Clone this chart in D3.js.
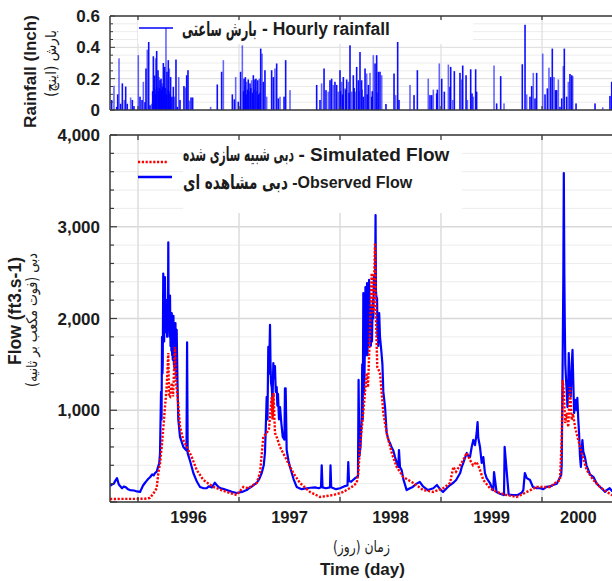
<!DOCTYPE html>
<html><head><meta charset="utf-8">
<script src="https://cdn.jsdelivr.net/npm/d3@7"></script>
<style>body{margin:0;background:#fff}svg{display:block}</style>
</head><body>
<svg id="c" width="612" height="581"></svg>
<script>
// ---------------- DATA ----------------
// time in decimal years
const rainTime = [1995.739,1995.762,1995.789,1995.799,1995.812,1995.828,1995.845,1995.865,1995.878,1995.894,1995.927,1995.944,1995.960,
1996.003,1996.020,1996.040,1996.053,1996.069,1996.079,1996.092,1996.106,1996.119,1996.135,1996.145,1996.152,1996.158,1996.165,1996.170,1996.175,1996.180,1996.185,1996.190,1996.198,1996.203,1996.208,1996.213,1996.218,1996.223,1996.228,1996.233,1996.238,1996.244,1996.251,1996.256,1996.264,1996.269,1996.277,1996.282,1996.287,1996.293,1996.300,1996.305,1996.310,1996.316,1996.323,1996.330,1996.337,1996.350,1996.363,1996.376,1996.389,1996.403,1996.416,1996.455,1996.469,1996.482,1996.495,1996.508,1996.525,1996.541,
1996.719,1996.785,1996.828,1996.845,1996.934,1996.954,1996.967,1996.993,1997.016,1997.033,1997.045,1997.050,1997.058,1997.063,1997.070,1997.076,1997.084,1997.092,1997.100,1997.109,1997.117,1997.125,1997.133,1997.142,1997.150,1997.158,1997.168,1997.175,1997.185,1997.193,1997.201,1997.208,1997.215,1997.228,1997.241,1997.257,1997.274,
1997.323,1997.340,1997.356,1997.373,1997.389,1997.406,1997.446,1997.462,1997.505,
1997.769,1997.802,1997.818,1997.842,1997.861,1997.884,1997.901,1997.917,1997.934,1997.950,1997.967,1997.983,1998.000,1998.005,1998.016,1998.025,1998.033,1998.050,1998.058,1998.066,1998.083,1998.090,1998.099,1998.116,1998.132,1998.140,1998.149,1998.165,1998.182,1998.190,1998.198,1998.214,1998.220,1998.231,1998.248,1998.264,1998.270,1998.281,1998.297,1998.314,1998.320,1998.330,1998.347,1998.363,1998.370,1998.380,1998.396,1998.413,1998.455,1998.535,1998.551,1998.571,1998.584,1998.693,1998.733,1998.766,1998.874,1998.891,1998.908,1998.924,1998.957,1998.964,
1998.983,1999.007,1999.033,1999.073,1999.089,1999.096,1999.116,1999.132,1999.188,1999.205,1999.215,1999.248,1999.261,1999.294,1999.307,1999.320,1999.343,1999.353,1999.525,1999.551,1999.591,1999.624,
1999.805,1999.832,1999.848,1999.881,1999.898,1999.914,1999.931,1999.947,2000.007,2000.030,2000.053,2000.069,2000.086,2000.102,2000.119,2000.135,2000.145,2000.162,2000.178,2000.195,2000.211,2000.221,2000.244,2000.261,2000.277,2000.294,2000.304,2000.337,2000.525,2000.601,2000.673,2000.690];
const rainValue = [0.064,0.155,0.02,0.10,0.33,0.04,0.17,0.064,0.15,0.04,0.08,0.064,0.025,
0.35,0.085,0.064,0.18,0.05,0.265,0.385,0.434,0.03,0.04,0.12,0.343,0.14,0.22,0.10,0.33,0.13,0.377,0.15,0.254,0.12,0.21,0.14,0.19,0.11,0.20,0.13,0.17,0.15,0.30,0.12,0.275,0.14,0.525,0.10,0.244,0.13,0.318,0.12,0.265,0.10,0.21,0.08,0.085,0.148,0.085,0.322,0.02,0.21,0.064,0.153,0.144,0.222,0.254,0.06,0.08,0.08,
0.02,0.163,0.244,0.318,0.10,0.068,0.21,0.053,0.244,0.413,0.12,0.20,0.15,0.21,0.10,0.18,0.13,0.195,0.12,0.17,0.14,0.19,0.11,0.222,0.13,0.195,0.20,0.12,0.19,0.10,0.20,0.11,0.392,0.36,0.18,0.254,0.085,
0.254,0.21,0.265,0.297,0.074,0.085,0.085,0.318,0.127,
0.16,0.064,0.17,0.265,0.127,0.117,0.19,0.20,0.16,0.18,0.16,0.117,0.254,0.12,0.18,0.10,0.21,0.138,0.13,0.195,0.18,0.11,0.413,0.117,0.222,0.14,0.117,0.275,0.19,0.12,0.37,0.19,0.13,0.085,0.265,0.233,0.10,0.16,0.237,0.085,0.12,0.35,0.297,0.35,0.11,0.244,0.244,0.222,0.038,0.233,0.095,0.434,0.064,0.16,0.095,0.254,0.20,0.095,0.095,0.13,0.106,0.13,
0.297,0.20,0.117,0.29,0.148,0.275,0.064,0.248,0.237,0.195,0.284,0.222,0.064,0.26,0.106,0.085,0.26,0.117,0.284,0.042,0.216,0.042,
0.292,0.544,0.10,0.085,0.153,0.237,0.074,0.237,0.36,0.10,0.138,0.27,0.21,0.392,0.21,0.127,0.127,0.195,0.02,0.074,0.28,0.392,0.085,0.18,0.23,0.222,0.216,0.042,0.042,0.017,0.09,0.18];

const obsTime = [1995.723,1995.740,1995.760,1995.775,1995.792,1995.810,1995.842,1995.860,1995.880,1995.900,1995.921,1995.960,1995.990,1996.020,1996.050,1996.070,1996.085,1996.100,1996.119,1996.140,1996.155,1996.168,1996.185,1996.198,1996.210,1996.218,1996.228,1996.233,1996.238,1996.242,1996.245,1996.250,1996.253,1996.256,1996.259,1996.262,1996.267,1996.271,1996.275,1996.279,1996.284,1996.288,1996.292,1996.296,1996.300,1996.304,1996.307,1996.312,1996.317,1996.322,1996.327,1996.331,1996.334,1996.338,1996.341,1996.344,1996.347,1996.351,1996.355,1996.358,1996.362,1996.366,1996.371,1996.374,1996.377,1996.380,1996.383,1996.391,1996.399,1996.416,1996.449,1996.480,1996.486,1996.492,1996.515,1996.548,1996.584,1996.614,1996.650,1996.680,1996.700,1996.733,1996.760,1996.779,1996.800,1996.822,1996.850,1996.878,1996.930,1996.977,1997.030,1997.076,1997.100,1997.129,1997.150,1997.175,1997.200,1997.225,1997.245,1997.257,1997.265,1997.274,1997.282,1997.290,1997.298,1997.307,1997.312,1997.317,1997.324,1997.332,1997.340,1997.348,1997.356,1997.364,1997.373,1997.380,1997.386,1997.396,1997.406,1997.420,1997.433,1997.450,1997.455,1997.462,1997.472,1997.490,1997.505,1997.540,1997.571,1997.620,1997.670,1997.710,1997.752,1997.790,1997.812,1997.819,1997.827,1997.860,1997.901,1997.906,1997.913,1997.960,1998.000,1998.040,1998.074,1998.082,1998.089,1998.110,1998.129,1998.150,1998.165,1998.178,1998.184,1998.192,1998.203,1998.210,1998.215,1998.220,1998.225,1998.231,1998.238,1998.243,1998.248,1998.252,1998.257,1998.260,1998.264,1998.268,1998.272,1998.276,1998.280,1998.288,1998.297,1998.301,1998.305,1998.312,1998.317,1998.322,1998.326,1998.330,1998.335,1998.340,1998.347,1998.352,1998.356,1998.363,1998.367,1998.371,1998.375,1998.379,1998.388,1998.396,1998.411,1998.420,1998.429,1998.446,1998.462,1998.480,1998.495,1998.510,1998.528,1998.545,1998.561,1998.577,1998.584,1998.594,1998.610,1998.627,1998.660,1998.693,1998.720,1998.759,1998.790,1998.822,1998.870,1998.924,1998.960,1998.990,1999.020,1999.056,1999.090,1999.122,1999.150,1999.171,1999.190,1999.205,1999.220,1999.238,1999.255,1999.270,1999.287,1999.304,1999.320,1999.337,1999.353,1999.362,1999.369,1999.386,1999.403,1999.419,1999.435,1999.452,1999.485,1999.513,1999.518,1999.525,1999.550,1999.584,1999.619,1999.624,1999.630,1999.670,1999.713,1999.760,1999.799,1999.815,1999.830,1999.849,1999.881,1999.910,1999.947,1999.980,2000.013,2000.045,2000.079,2000.110,2000.146,2000.165,2000.178,2000.190,2000.195,2000.200,2000.205,2000.211,2000.216,2000.221,2000.226,2000.231,2000.238,2000.245,2000.252,2000.260,2000.265,2000.270,2000.277,2000.285,2000.294,2000.302,2000.310,2000.318,2000.327,2000.335,2000.343,2000.350,2000.359,2000.367,2000.376,2000.385,2000.393,2000.400,2000.409,2000.425,2000.440,2000.458,2000.475,2000.510,2000.542,2000.575,2000.607,2000.625,2000.641,2000.670,2000.693,2000.760];
const obsFlow = [175,190,200,230,260,190,150,170,160,140,130,125,115,110,180,210,230,250,270,300,290,315,330,380,420,530,1200,900,1800,1400,1500,2490,1900,2100,1750,2000,2450,1850,1900,2050,2200,1800,2050,1950,2830,1900,2100,1800,2250,1700,1900,1650,2060,1600,1750,1550,1800,2030,1500,1650,1450,1700,1950,1500,1600,1350,1875,1300,900,710,600,560,1740,530,450,316,220,164,150,150,170,160,210,185,160,150,140,130,110,98,110,130,150,170,190,207,250,316,400,534,800,1145,900,1690,1400,1930,1500,1300,1253,1100,1515,1350,1480,1200,1253,1050,1180,900,1035,850,710,680,1240,1240,567,450,382,250,164,140,150,155,160,150,160,400,160,150,160,400,160,140,150,170,180,435,230,220,240,260,272,280,1330,500,600,800,927,1500,900,2278,1200,1406,1900,2343,1700,1600,2000,2387,1600,1900,1700,2420,1900,2125,1700,1850,1750,2100,2200,2000,2452,2300,2300,3128,2300,2200,2223,1800,1900,1700,2060,1800,1624,1500,1200,1035,752,676,640,600,560,490,430,382,567,380,349,250,130,150,164,200,218,170,130,150,185,140,109,150,185,210,240,280,316,380,425,480,534,500,490,600,676,620,752,872,700,600,425,490,316,260,207,130,130,327,110,90,76,76,600,80,76,76,100,130,316,260,240,164,150,150,140,164,170,185,200,240,270,294,400,970,1600,2420,3586,2500,1908,1500,1330,1200,1035,1300,1624,1400,1200,1150,1500,1657,1300,970,1050,1112,1000,1134,900,752,500,382,550,676,550,490,400,350,300,272,200,164,130,110,130,150,120,98,95];

const simTime = [1995.723,1996.069,1996.119,1996.151,1996.185,1996.201,1996.218,1996.235,1996.250,1996.267,1996.284,1996.300,1996.307,1996.317,1996.327,1996.334,1996.347,1996.356,1996.366,1996.376,1996.389,1996.416,1996.449,1996.483,1996.532,1996.581,1996.647,1996.746,1996.878,1996.977,1997.043,1997.089,1997.175,1997.208,1997.241,1997.274,1997.297,1997.312,1997.324,1997.332,1997.342,1997.356,1997.376,1997.406,1997.472,1997.538,1997.604,1997.703,1997.802,1997.934,1998.033,1998.116,1998.165,1998.181,1998.198,1998.230,1998.264,1998.277,1998.297,1998.314,1998.330,1998.347,1998.356,1998.369,1998.396,1998.413,1998.429,1998.462,1998.512,1998.561,1998.627,1998.726,1998.825,1998.924,1999.023,1999.089,1999.122,1999.149,1999.221,1999.254,1999.287,1999.317,1999.353,1999.386,1999.419,1999.485,1999.551,1999.650,1999.749,1999.815,1999.947,2000.079,2000.146,2000.178,2000.195,2000.205,2000.218,2000.228,2000.245,2000.260,2000.277,2000.294,2000.307,2000.327,2000.359,2000.393,2000.442,2000.508,2000.574,2000.641,2000.693,2000.760];
const simFlow = [33,35,45,90,150,316,420,600,800,1035,1253,1624,1150,1145,1250,1297,1150,1400,1690,1300,1188,818,676,600,490,349,240,164,109,76,164,150,207,316,710,752,800,1000,1145,900,1188,752,700,600,458,316,207,109,55,76,109,164,207,316,600,970,1406,1250,1875,2495,2060,2823,2000,1471,1406,1188,970,752,534,382,272,207,130,110,150,207,382,330,458,534,458,400,436,349,240,150,109,76,55,90,164,164,218,240,676,1330,1188,861,970,818,1253,894,960,818,676,534,349,240,164,110,76,70];

const yearTicks = [1996,1997,1998,1999,2000];
const yearLabels = ["1996","1997","1998","1999","2000"];
const yearLabelPos = [1996.5,1997.5,1998.5,1999.5,2000.36];
const flowTicks = [1000,2000,3000,4000];
const flowTickLabels = ["1,000","2,000","3,000","4,000"];
const rainTicks = [0,0.2,0.4,0.6];
const rainTickLabels = ["0","0.2","0.4","0.6"];

// ---------------- CHART ----------------
const svg = d3.select("#c");
const L = 110, R = 622;
const x = d3.scaleLinear().domain([1996, 2000]).range([138, 542]);
const yR = d3.scaleLinear().domain([0, 0.6]).range([110, 16]);
const yF = d3.scaleLinear().domain([0, 4000]).range([502, 135]);

const AX = "#3a3a3a", TXT = "#1c1c1c";
const EN = "'Liberation Sans', Arial, sans-serif";
const FA = "'DejaVu Sans', sans-serif";

function fitText(parent, str, o) {
  const t = parent.append("text").text(str)
    .attr("font-family", o.family).attr("font-weight", o.weight || "normal")
    .attr("font-size", o.size).attr("fill", o.fill || TXT).attr("x", 0).attr("y", o.y);
  let w = t.node().getBBox().width;
  let s = o.size * (o.x1 - o.x0) / w;
  s = Math.max(o.size * 0.7, Math.min(o.size * 1.35, s));
  t.attr("font-size", s);
  const b = t.node().getBBox();
  t.attr("x", (o.x0 + o.x1) / 2 - (b.x + b.width / 2));
  return t;
}
// Persian text: keep glyph height, squeeze horizontally to the width via a scale transform
function faText(parent, str, o) {
  const g = parent.append("g");
  const t = g.append("text").text(str)
    .attr("font-family", FA).attr("font-weight", o.weight || "normal")
    .attr("font-size", o.size).attr("fill", o.fill || TXT).attr("x", 0).attr("y", 0);
  const b = t.node().getBBox();
  const sx = (o.x1 - o.x0) / b.width;
  t.attr("x", -b.x);
  g.attr("transform", `translate(${o.x0},${o.y}) scale(${sx},1)`);
  return g;
}

// ===== Rainfall panel =====
const gR = svg.append("g");
const rainMinor = d3.range(0, 0.6001, 0.05);
gR.selectAll(".hg").data(rainMinor).join("line")
  .attr("x1", L).attr("x2", R).attr("y1", d => yR(d)).attr("y2", d => yR(d))
  .attr("stroke", d => (Math.abs(d*5 - Math.round(d*5)) < 1e-6) ? "#dcdcdc" : "#ececec").attr("stroke-width", 1);
gR.selectAll(".vg").data(yearTicks).join("line")
  .attr("x1", d => x(d)).attr("x2", d => x(d)).attr("y1", yR(0.6)).attr("y2", yR(0))
  .attr("stroke", "#dedede").attr("stroke-width", 1.2);
gR.append("rect").attr("x", 138).attr("y", 17).attr("width", 335).attr("height", 27).attr("fill", "#fff");
gR.append("g").selectAll("rect").data(rainTime.map((t, i) => [t, rainValue[i]])).join("rect")
  .attr("x", d => x(d[0]) - 0.8).attr("width", 1.6)
  .attr("y", d => yR(d[1])).attr("height", d => yR(0) - yR(d[1]))
  .attr("fill", "#0000ff").attr("fill-opacity", (d, i) => (i % 3 === 1 ? 0.6 : 0.95));
gR.append("line").attr("x1", L).attr("x2", R).attr("y1", yR(0.6)).attr("y2", yR(0.6)).attr("stroke", AX).attr("stroke-width", 1.5);
gR.append("line").attr("x1", L).attr("x2", R).attr("y1", yR(0)).attr("y2", yR(0)).attr("stroke", AX).attr("stroke-width", 1.5);
gR.append("line").attr("x1", L).attr("x2", L).attr("y1", yR(0.6)).attr("y2", yR(0)).attr("stroke", AX).attr("stroke-width", 1.5);
gR.selectAll(".mt").data(rainMinor).join("line")
  .attr("x1", L).attr("x2", d => L + ((Math.abs(d*5 - Math.round(d*5)) < 1e-6) ? 5 : 3))
  .attr("y1", d => yR(d)).attr("y2", d => yR(d)).attr("stroke", AX);
gR.selectAll(".tt").data(yearTicks).join("line")
  .attr("x1", d => x(d)).attr("x2", d => x(d)).attr("y1", yR(0.6)).attr("y2", yR(0.6) + 4).attr("stroke", AX).attr("stroke-width", 1.3);
gR.selectAll(".bt").data(yearTicks).join("line")
  .attr("x1", d => x(d)).attr("x2", d => x(d)).attr("y1", yR(0)).attr("y2", yR(0) - 4).attr("stroke", AX).attr("stroke-width", 1.3);
gR.selectAll(".tl").data(rainTicks).join("text")
  .attr("x", 100).attr("y", d => yR(d)).attr("dy", "0.36em").attr("text-anchor", "end")
  .attr("font-family", EN).attr("font-weight", "bold").attr("font-size", 17).attr("fill", TXT)
  .text((d, i) => rainTickLabels[i]);
gR.append("line").attr("x1", 139).attr("x2", 173).attr("y1", 28).attr("y2", 28).attr("stroke", "#0000ff").attr("stroke-width", 1.5);
faText(gR, "بارش ساعتی", {x0: 182, x1: 257, y: 36, size: 20, weight: "bold"});
fitText(gR, "- Hourly rainfall", {x0: 262, x1: 390, y: 35, size: 16.5, family: EN, weight: "bold"});

// ===== Flow panel =====
const gF = svg.append("g");
const flowMinor = d3.range(0, 4001, 200);
gF.selectAll(".hg").data(flowMinor).join("line")
  .attr("x1", L).attr("x2", R).attr("y1", d => yF(d)).attr("y2", d => yF(d))
  .attr("stroke", d => d % 1000 === 0 ? "#d8d8d8" : "#ececec").attr("stroke-width", d => d % 1000 === 0 ? 1.5 : 1);
gF.selectAll(".vg").data(yearTicks).join("line")
  .attr("x1", d => x(d)).attr("x2", d => x(d)).attr("y1", yF(4000)).attr("y2", yF(0))
  .attr("stroke", "#dcdcdc").attr("stroke-width", 1.5);
gF.append("rect").attr("x", 183).attr("y", 136).attr("width", 279).attr("height", 77).attr("fill", "#fff");

svg.append("clipPath").attr("id", "pc").append("rect")
  .attr("x", L).attr("y", yF(4000)).attr("width", R - L).attr("height", yF(0) - yF(4000));
const line = d3.line().x(d => x(d[0])).y(d => yF(d[1]));
const gL = gF.append("g").attr("clip-path", "url(#pc)");
gL.append("path").datum(obsTime.map((t, i) => [t, obsFlow[i]]))
  .attr("d", line).attr("fill", "none").attr("stroke", "#0000ff").attr("stroke-width", 2.2).attr("stroke-linejoin", "round");
gL.append("path").datum(simTime.map((t, i) => [t, simFlow[i]]))
  .attr("d", line).attr("fill", "none").attr("stroke", "#ff0000").attr("stroke-width", 2.4).attr("stroke-dasharray", "2.2,1.6");

gF.append("line").attr("x1", L).attr("x2", R).attr("y1", yF(4000)).attr("y2", yF(4000)).attr("stroke", AX).attr("stroke-width", 1.5);
gF.append("line").attr("x1", L).attr("x2", R).attr("y1", yF(0)).attr("y2", yF(0)).attr("stroke", AX).attr("stroke-width", 1.5);
gF.append("line").attr("x1", L).attr("x2", L).attr("y1", yF(4000)).attr("y2", yF(0)).attr("stroke", AX).attr("stroke-width", 1.5);
gF.selectAll(".mt").data(flowMinor).join("line")
  .attr("x1", L).attr("x2", d => L + (d % 1000 === 0 ? 7 : 4))
  .attr("y1", d => yF(d)).attr("y2", d => yF(d)).attr("stroke", AX).attr("stroke-width", 1.2);
gF.selectAll(".tt").data(yearTicks).join("line")
  .attr("x1", d => x(d)).attr("x2", d => x(d)).attr("y1", yF(4000)).attr("y2", yF(4000) + 5).attr("stroke", AX).attr("stroke-width", 1.3);
gF.selectAll(".bt").data(yearTicks).join("line")
  .attr("x1", d => x(d)).attr("x2", d => x(d)).attr("y1", yF(0)).attr("y2", yF(0) - 5).attr("stroke", AX).attr("stroke-width", 1.3);
gF.selectAll(".tl").data(flowTicks).join("text")
  .attr("x", 100).attr("y", d => yF(d)).attr("dy", "0.36em").attr("text-anchor", "end")
  .attr("font-family", EN).attr("font-weight", "bold").attr("font-size", 17).attr("fill", TXT)
  .text((d, i) => flowTickLabels[i]);
gF.selectAll(".xl").data(yearLabelPos).join("text")
  .attr("x", d => x(d)).attr("y", 523).attr("text-anchor", "middle")
  .attr("font-family", EN).attr("font-weight", "bold").attr("font-size", 16.5).attr("fill", TXT)
  .text((d, i) => yearLabels[i]);

gF.append("line").attr("x1", 138).attr("x2", 168).attr("y1", 162).attr("y2", 162)
  .attr("stroke", "#ff0000").attr("stroke-width", 2.4).attr("stroke-dasharray", "2.2,1.6");
gF.append("line").attr("x1", 138).attr("x2", 172).attr("y1", 177).attr("y2", 177)
  .attr("stroke", "#0000ff").attr("stroke-width", 2.4);
faText(gF, "دبی شبیه سازی شده", {x0: 183, x1: 294, y: 161, size: 20, weight: "bold"});
fitText(gF, "- Simulated Flow", {x0: 298, x1: 450, y: 161, size: 18, family: EN, weight: "bold"});
faText(gF, "دبی مشاهده ای", {x0: 183, x1: 288, y: 189, size: 20, weight: "bold"});
fitText(gF, "-Observed Flow", {x0: 292, x1: 413, y: 188, size: 18, family: EN, weight: "bold"});

// ===== axis titles =====
const gt1 = svg.append("g").attr("transform", "translate(36,0) rotate(-90)");
fitText(gt1, "Rainfall (Inch)", {x0: -128, x1: -15, y: 0, size: 17, family: EN, weight: "bold"});
const gt2 = svg.append("g").attr("transform", "translate(56,0) rotate(-90)");
faText(gt2, "بارش (اینچ)", {x0: -97, x1: -30, y: 0, size: 15});
const gt3 = svg.append("g").attr("transform", "translate(21,0) rotate(-90)");
fitText(gt3, "Flow (ft3.s-1)", {x0: -365, x1: -257, y: 0, size: 17, family: EN, weight: "bold"});
const gt4 = svg.append("g").attr("transform", "translate(37,0) rotate(-90)");
faText(gt4, "دبی (فوت مکعب بر ثانیه)", {x0: -387, x1: -253, y: 0, size: 15});

faText(svg, "زمان (روز)", {x0: 333, x1: 390, y: 552, size: 16});
fitText(svg, "Time (day)", {x0: 320, x1: 405, y: 575, size: 17, family: EN, weight: "bold"});
</script>
</body></html>
